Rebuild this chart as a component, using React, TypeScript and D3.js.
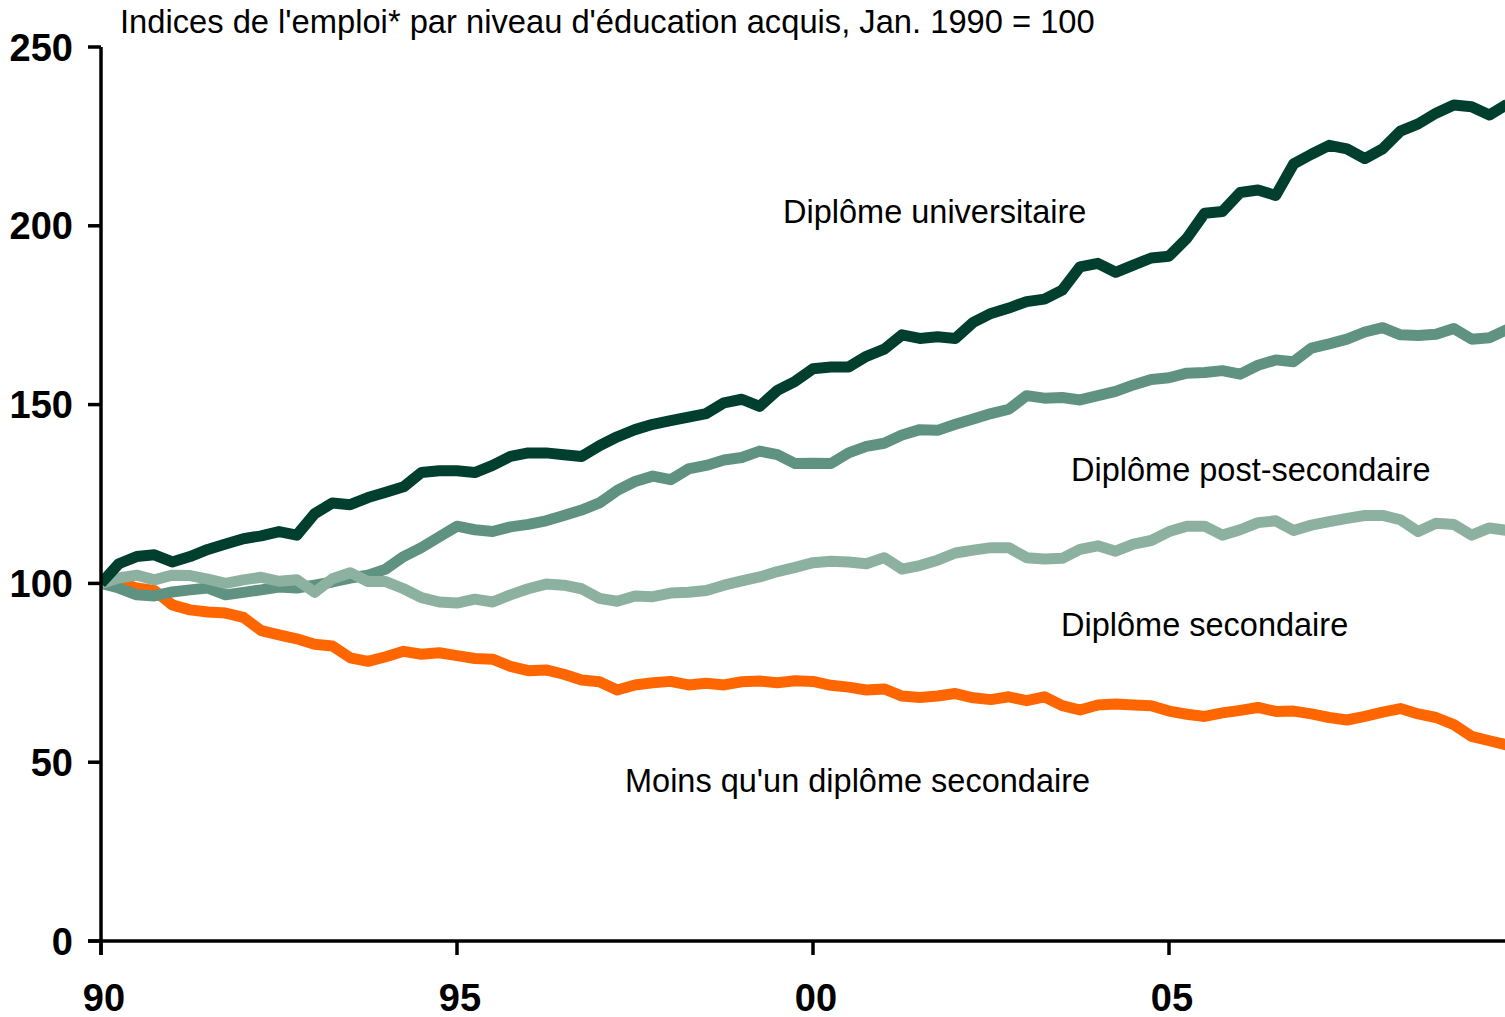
import React from "react";
import * as d3 from "d3";

// Quarterly observations, starting January 1990 (index 0 = 1990 Q1)
const START_YEAR = 1990;
const PERIODS_PER_YEAR = 4;

const universitaire = [100,105.5,107.5,108,106,107.5,109.5,111,112.5,113.3,114.5,113.5,119.5,122.5,122,124,125.5,127,131,131.5,131.5,131,133,135.5,136.5,136.5,136,135.5,138.5,141,143,144.5,145.5,146.5,147.5,150.5,151.5,149.5,154,156.5,160,160.5,160.5,163.5,165.5,169.5,168.5,169,168.5,173,175.5,177,178.8,179.5,182,188.5,189.5,187,189,191,191.5,196.5,203.5,204,209.3,210,208.5,217.3,220,222.5,221.5,218.8,221.5,226.5,228.5,231.5,233.8,233.3,231,234];
const postSecondaire = [100,98.7,96.8,96.5,97.6,98.2,98.7,96.8,97.5,98.2,99,98.7,99.5,100.4,101.5,102.3,104,107.5,110,113,116,115,114.5,115.8,116.5,117.5,119,120.5,122.5,126,128.5,130,129,132,133,134.5,135.2,137,136,133.5,133.6,133.5,136.5,138.3,139.2,141.5,143,142.8,144.5,146,147.5,148.7,152.5,151.8,152,151.3,152.5,153.7,155.5,157,157.5,158.8,159,159.5,158.5,161,162.5,162,165.8,167,168.3,170.3,171.5,169.5,169.3,169.7,171.3,168.3,168.7,171];
const secondaire = [100,101.5,102.3,101,102.3,102.2,101.2,100,101,101.7,100.6,101,97.5,101.3,103,100.5,100.5,98.5,96,94.8,94.5,95.6,94.8,96.8,98.5,99.8,99.5,98.5,95.8,95,96.5,96.3,97.3,97.5,98,99.5,100.7,101.8,103.3,104.5,105.8,106.2,106,105.5,107.2,104,105,106.5,108.5,109.3,110,110,107.2,106.8,107,109.5,110.5,109,111,112,114.5,116,116,113.5,115,117,117.5,114.8,116.3,117.3,118.2,119,119,117.8,114.5,116.8,116.5,113.5,115.5,114.8];
const moinsSecondaire = [100,100.5,98.7,98,94,92.6,92,91.7,90.5,86.8,85.6,84.5,83,82.5,79.2,78.2,79.5,81,80.2,80.6,79.8,79,78.8,76.8,75.6,75.8,74.6,73,72.5,70.2,71.6,72.2,72.6,71.6,72.1,71.6,72.5,72.7,72.2,72.8,72.6,71.5,71,70.2,70.5,68.5,68.1,68.5,69.2,68,67.5,68.3,67.2,68.3,65.8,64.6,66,66.3,66,65.8,64.3,63.4,62.8,63.8,64.5,65.3,64.2,64.3,63.5,62.5,61.8,62.8,64,65,63.5,62.5,60.5,57.2,56,54.8];

const yTicks = [0, 50, 100, 150, 200, 250];
const xTicks = [1990, 1995, 2000, 2005];
const xTickLabels = ["90", "95", "00", "05"];

const title = "Indices de l'emploi* par niveau d'éducation acquis, Jan. 1990 = 100";

const seriesNames = [
  "Moins qu'un diplôme secondaire",
  "Diplôme post-secondaire",
  "Diplôme secondaire",
  "Diplôme universitaire",
];
const seriesValues = [moinsSecondaire, postSecondaire, secondaire, universitaire];
const seriesColors = ["#FF6600", "#5F9281", "#8DB1A1", "#003F2D"];

// label placement [x, baseline]
const labelPos: Record<string, [number, number]> = {
  "Diplôme universitaire": [783, 223],
  "Diplôme post-secondaire": [1071, 481],
  "Diplôme secondaire": [1061, 636],
  "Moins qu'un diplôme secondaire": [625, 792],
};

const W = 1505;
const H = 1017;
const FONT = "'Liberation Sans', Arial, Helvetica, sans-serif";

export default function App() {
  const x = d3.scaleLinear().domain([1990, 2010]).range([101, 1525]);
  const y = d3.scaleLinear().domain([0, 250]).range([941, 47]);

  const line = d3
    .line<number>()
    .x((_, i) => x(START_YEAR + i / PERIODS_PER_YEAR))
    .y((d) => y(d))
    .curve(d3.curveLinear);

  const axisW = 3.5;

  return (
    <svg
      width={W}
      height={H}
      style={{ position: "absolute", left: 0, top: 0, background: "#fff" }}
      fontFamily={FONT}
    >
      <rect x={0} y={0} width={W} height={H} fill="#fff" />
      <defs>
        <clipPath id="plot">
          <rect x={101} y={0} width={W - 101} height={941} />
        </clipPath>
      </defs>

      <text x={120} y={33} fontSize={32.7} fill="#000">
        {title}
      </text>

      <g clipPath="url(#plot)">
        {seriesValues.map((vals, i) => (
          <path
            key={seriesNames[i]}
            d={line(vals) || ""}
            fill="none"
            stroke={seriesColors[i]}
            strokeWidth={11}
            strokeLinejoin="round"
            strokeLinecap="butt"
          />
        ))}
      </g>

      {/* axes */}
      <line x1={x(1990)} x2={x(1990)} y1={y(250)} y2={955} stroke="#000" strokeWidth={axisW} />
      <line x1={88} x2={W} y1={y(0)} y2={y(0)} stroke="#000" strokeWidth={axisW} />
      {yTicks.map((t) => (
        <g key={t}>
          <line x1={88} x2={x(1990)} y1={y(t)} y2={y(t)} stroke="#000" strokeWidth={axisW} />
          <text
            x={73}
            y={y(t) + 13.5}
            textAnchor="end"
            fontSize={38}
            fontWeight="bold"
            fill="#000"
          >
            {t}
          </text>
        </g>
      ))}
      {xTicks.map((t, i) => (
        <g key={t}>
          <line x1={x(t)} x2={x(t)} y1={y(0)} y2={955} stroke="#000" strokeWidth={axisW} />
          <text
            x={x(t) + 3}
            y={1011}
            textAnchor="middle"
            fontSize={38}
            fontWeight="bold"
            fill="#000"
          >
            {xTickLabels[i]}
          </text>
        </g>
      ))}

      {seriesNames.map((n) => (
        <text key={n} x={labelPos[n][0]} y={labelPos[n][1]} fontSize={32.5} fill="#000">
          {n}
        </text>
      ))}
    </svg>
  );
}
